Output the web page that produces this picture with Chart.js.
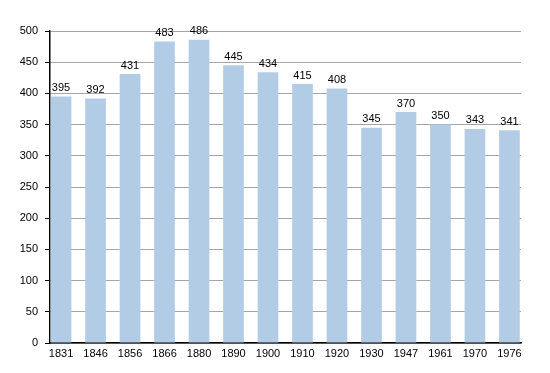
<!DOCTYPE html>
<html lang="en">
  <head>
    <meta charset="UTF-8" />
    <script src="https://cdn.jsdelivr.net/npm/chart.js@4.4.1/dist/chart.umd.min.js"></script>
    <style>
      html, body { margin: 0; padding: 0; background: #fff; }
      #wrap { width: 550px; height: 373px; }
    </style>
  </head>
  <body>
    <div id="wrap"><canvas id="myChart"></canvas></div>
    <script>
      const years = ["1831", "1846", "1856", "1866", "1880", "1890", "1900", "1910", "1920", "1930", "1947", "1961", "1970", "1976"];
      const population = [395, 392, 431, 483, 486, 445, 434, 415, 408, 345, 370, 350, 343, 341];

      const FONT = "'Liberation Sans', Arial, sans-serif";

      // value labels above each bar
      const valueLabels = {
        id: "valueLabels",
        afterDatasetsDraw(chart) {
          const ctx = chart.ctx;
          const meta = chart.getDatasetMeta(0);
          ctx.save();
          ctx.font = "11px " + FONT;
          ctx.fillStyle = "#000";
          ctx.textAlign = "center";
          ctx.textBaseline = "bottom";
          meta.data.forEach((bar, i) => {
            ctx.fillText(population[i], bar.x, bar.y - 3);
          });
          ctx.restore();
        },
      };

      // short minor ticks on the y axis (every 25 that is not a multiple of 50)
      const minorTicks = {
        id: "minorTicks",
        afterDraw(chart) {
          const y = chart.scales.y;
          const ctx = chart.ctx;
          ctx.save();
          ctx.strokeStyle = "#000";
          ctx.lineWidth = 1;
          y.ticks.forEach((t) => {
            if (t.value % 50 === 0) return;
            const py = Math.round(y.getPixelForValue(t.value)) + 0.5;
            ctx.beginPath();
            ctx.moveTo(y.right - 3, py);
            ctx.lineTo(y.right, py);
            ctx.stroke();
          });
          ctx.restore();
        },
      };

      const ctx = document.getElementById("myChart").getContext("2d");
      new Chart(ctx, {
        type: "bar",
        data: {
          datasets: [
            {
              data: population.map((v, i) => ({ x: i, y: v })),
              backgroundColor: "#b3cce6",
              borderWidth: 0,
              barPercentage: 0.6,
              categoryPercentage: 1,
            },
          ],
        },
        plugins: [valueLabels, minorTicks],
        options: {
          responsive: true,
          maintainAspectRatio: false,
          animation: false,
          layout: { padding: { top: 31, right: 29, left: 0, bottom: 0 } },
          plugins: {
            legend: { display: false },
            tooltip: { enabled: false },
          },
          scales: {
            x: {
              type: "linear",
              offset: false,
              min: -0.32,
              max: 13.335,
              grid: { display: false, drawTicks: false, offset: false },
              border: { color: "#000", width: 1.5 },
              afterBuildTicks: (scale) => {
                scale.ticks = years.map((_, i) => ({ value: i }));
              },
              ticks: {
                color: "#000",
                padding: 4,
                maxRotation: 0,
                autoSkip: false,
                callback: (v) => years[v],
                font: { size: 11, family: FONT },
              },
              afterFit: (scale) => { scale.height = 30; },
            },
            y: {
              min: 0,
              max: 500,
              border: { color: "#000", width: 1.5 },
              grid: {
                color: (c) => (c.tick.value % 50 === 0 ? "#a6a6a6" : "#e2e2e2"),
                tickColor: (c) => (c.tick.value % 50 === 0 ? "#000" : "rgba(0,0,0,0)"),
                tickLength: 5,
                lineWidth: 1,
              },
              ticks: {
                stepSize: 25,
                color: "#000",
                padding: 7,
                callback: (v) => (v % 50 === 0 ? v : ""),
                font: { size: 11, family: FONT },
              },
              afterFit: (scale) => { scale.width = 50; },
            },
          },
        },
      });
    </script>
  </body>
</html>
